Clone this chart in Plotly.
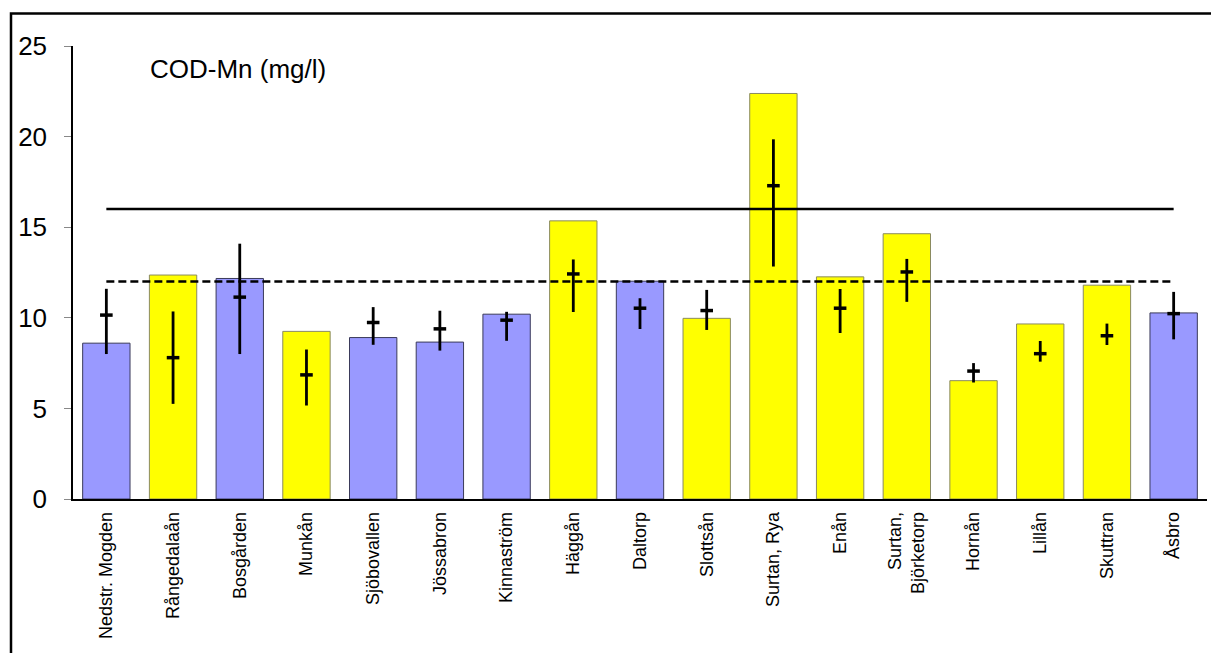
import plotly.graph_objects as go

# Sampling sites along the x axis
sites = [
    "Nedstr. Mogden", "Rångedalaån", "Bosgården", "Munkån", "Sjöbovallen",
    "Jössabron", "Kinnaström", "Häggån", "Daltorp", "Slottsån", "Surtan, Rya",
    "Enån", "Surtan,<br>Björketorp", "Hornån", "Lillån", "Skuttran", "Åsbro",
]
# Site group: "b" = blue bars, "y" = yellow bars
groups = ["b", "y", "b", "y", "b", "b", "b", "y", "b", "y", "y",
          "y", "y", "y", "y", "y", "b"]

# COD-Mn (mg/l) for the current year (bars)
cod_year = [8.6, 12.36, 12.17, 9.25, 8.91, 8.66, 10.2, 15.35, 12.02, 9.97, 22.38,
            12.26, 14.64, 6.53, 9.66, 11.8, 10.27]
# Long-term mean with min/max range (crosses)
cod_mean = [10.15, 7.8, 11.14, 6.85, 9.74, 9.39, 9.87, 12.42, 10.53, 10.4, 17.29,
            10.53, 12.53, 7.06, 8.02, 9.01, 10.23]
cod_high = [11.6, 10.35, 14.09, 8.25, 10.59, 10.39, 10.33, 13.22, 11.08, 11.54, 19.85,
            11.59, 13.25, 7.5, 8.72, 9.68, 11.43]
cod_low = [8.0, 5.25, 8.0, 5.16, 8.51, 8.19, 8.73, 10.32, 9.38, 9.33, 12.83,
           9.16, 10.88, 6.43, 7.58, 8.5, 8.81]

# Reference levels
level_high = 16
level_dashed = 12

fill = {"b": "#9999FF", "y": "#FFFF00"}
edge = {"b": "#3a3a5a", "y": "#8a8a60"}

fig = go.Figure()

fig.add_trace(go.Bar(
    x=sites, y=cod_year,
    marker=dict(color=[fill[g] for g in groups],
                line=dict(color=[edge[g] for g in groups], width=1)),
    showlegend=False, hoverinfo="x+y",
))

fig.add_trace(go.Scatter(
    x=[sites[0], sites[-1]], y=[level_high, level_high], mode="lines",
    line=dict(color="black", width=2.5), showlegend=False, hoverinfo="skip",
))
fig.add_trace(go.Scatter(
    x=[sites[0], sites[-1]], y=[level_dashed, level_dashed], mode="lines",
    line=dict(color="black", width=2.5, dash="8px,4px"), showlegend=False,
    hoverinfo="skip",
))

fig.add_trace(go.Scatter(
    x=sites, y=cod_mean, mode="markers",
    marker=dict(symbol="line-ew", size=9, color="black",
                line=dict(color="black", width=3.5)),
    error_y=dict(type="data", symmetric=False,
                 array=[h - m for h, m in zip(cod_high, cod_mean)],
                 arrayminus=[m - l for m, l in zip(cod_mean, cod_low)],
                 color="black", thickness=2.8, width=0),
    showlegend=False,
))

font_family = "Liberation Sans, Arial, sans-serif"

fig.update_layout(
    width=1211, height=653,
    margin=dict(l=73, r=4, t=46, b=154),
    paper_bgcolor="white", plot_bgcolor="white",
    bargap=0.29,
    font=dict(family=font_family, color="black"),
    xaxis=dict(
        type="category", showgrid=False, showline=True, linecolor="black",
        linewidth=1.5, ticks="", tickangle=-90,
        tickfont=dict(size=18, family=font_family), ticklabelstandoff=4,
        range=[-0.5, len(sites) - 0.5],
    ),
    yaxis=dict(
        range=[0, 25], tickvals=[0, 5, 10, 15, 20, 25], showgrid=False,
        zeroline=False, showline=True, linecolor="black", linewidth=1.5,
        ticks="outside", ticklen=7, tickcolor="#888888", tickwidth=1,
        tickfont=dict(size=26, family=font_family), ticklabelstandoff=12,
    ),
    annotations=[dict(
        text="COD-Mn (mg/l)", xref="paper", yref="paper",
        x=(148 - 73) / 1134, y=(499 - 69) / 453, xanchor="left",
        yanchor="middle", showarrow=False,
        font=dict(size=26, family=font_family, color="black"),
    )],
    shapes=[dict(
        type="rect", xref="paper", yref="paper",
        x0=(11 - 73) / 1134, x1=1.2, y0=-0.6, y1=(499 - 13.5) / 453,
        line=dict(color="black", width=2.5), layer="below",
    )],
)

fig.write_html("out.html")
